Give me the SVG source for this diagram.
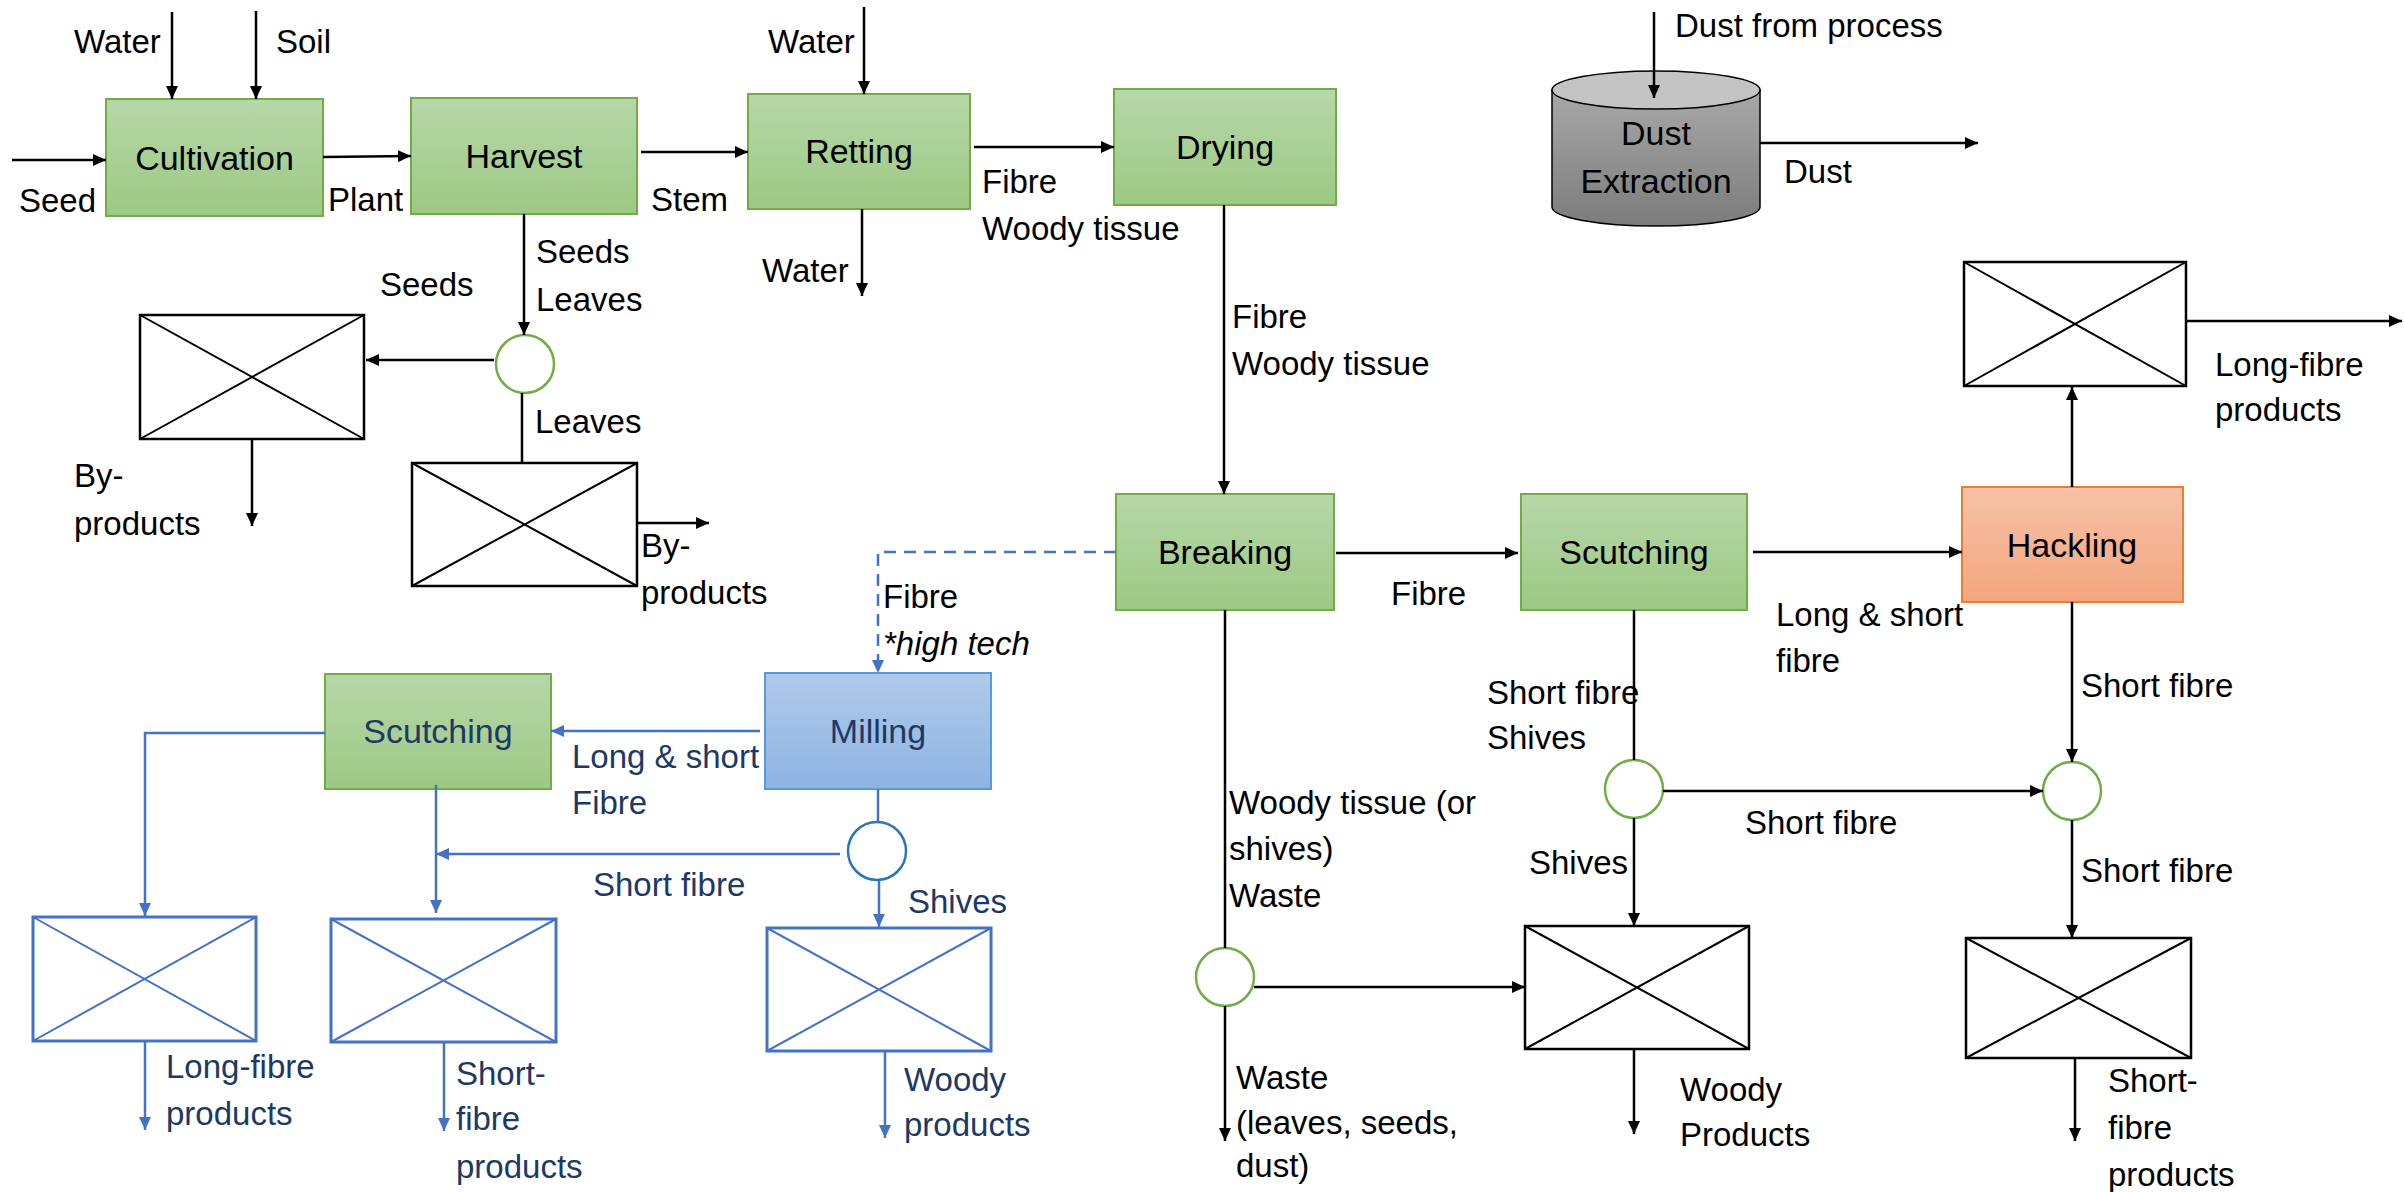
<svg xmlns="http://www.w3.org/2000/svg" width="2404" height="1192" viewBox="0 0 2404 1192">
  <defs>
    <linearGradient id="gGreen" x1="0" y1="0" x2="0" y2="1">
      <stop offset="0" stop-color="#B7D7A8"/>
      <stop offset="1" stop-color="#9CC984"/>
    </linearGradient>
    <linearGradient id="gBlue" x1="0" y1="0" x2="0" y2="1">
      <stop offset="0" stop-color="#AFCAE9"/>
      <stop offset="1" stop-color="#8EB4E3"/>
    </linearGradient>
    <linearGradient id="gOrange" x1="0" y1="0" x2="0" y2="1">
      <stop offset="0" stop-color="#F7C2A8"/>
      <stop offset="1" stop-color="#F4A57E"/>
    </linearGradient>
    <linearGradient id="gGrey" x1="0" y1="0" x2="0" y2="1">
      <stop offset="0" stop-color="#A8A8A8"/>
      <stop offset="1" stop-color="#7C7C7C"/>
    </linearGradient>
    <marker id="ah" markerWidth="14" markerHeight="12" refX="13" refY="6" orient="auto" markerUnits="userSpaceOnUse">
      <path d="M0,0 L13,6 L0,12 z" fill="#000"/>
    </marker>
    <marker id="ahb" markerWidth="14" markerHeight="12" refX="13" refY="6" orient="auto" markerUnits="userSpaceOnUse">
      <path d="M0,0 L13,6 L0,12 z" fill="#4472C4"/>
    </marker>
  </defs>
  <style>
    .proc { stroke-width: 2; }
    .green { fill: url(#gGreen); stroke: #70AD47; }
    .blue { fill: url(#gBlue); stroke: #5B9BD5; }
    .orange { fill: url(#gOrange); stroke: #ED7D31; }
    .xbox { fill: #fff; stroke: #000; stroke-width: 2.5; }
    .xline { stroke: #000; stroke-width: 2; }
    .xboxb { fill: #fff; stroke: #4472C4; stroke-width: 3; }
    .xlineb { stroke: #4472C4; stroke-width: 2; }
    .split { fill: #fff; stroke: #70AD47; stroke-width: 2.5; }
    .splitb { fill: #fff; stroke: #2E75B6; stroke-width: 2.5; }
    .name { font-family: "Liberation Sans", Arial, sans-serif; font-size: 34px; text-anchor: middle; fill: #000; }
    .nameb { font-family: "Liberation Sans", Arial, sans-serif; font-size: 34px; text-anchor: middle; fill: #203864; }
    .lbl { font-family: "Liberation Sans", Arial, sans-serif; font-size: 33px; fill: #000; }
    .lblb { font-family: "Liberation Sans", Arial, sans-serif; font-size: 33px; fill: #203864; }
    .flow { fill: none; stroke: #000; stroke-width: 2.5; }
    .flowb { fill: none; stroke: #4472C4; stroke-width: 2.5; }
    .arr { marker-end: url(#ah); }
    .arrb { marker-end: url(#ahb); }
  </style>

  <rect width="2404" height="1192" fill="#fff"/>

  <!-- process units -->
  <g id="cultivation">
    <rect class="proc green" x="106" y="99" width="217" height="117"/>
    <text class="name" x="214.5" y="170">Cultivation</text>
  </g>
  <g id="harvest">
    <rect class="proc green" x="411" y="98" width="226" height="116"/>
    <text class="name" x="524" y="168">Harvest</text>
  </g>
  <g id="retting">
    <rect class="proc green" x="748" y="94" width="222" height="115"/>
    <text class="name" x="859" y="163">Retting</text>
  </g>
  <g id="drying">
    <rect class="proc green" x="1114" y="89" width="222" height="116"/>
    <text class="name" x="1225" y="159">Drying</text>
  </g>
  <g id="breaking">
    <rect class="proc green" x="1116" y="494" width="218" height="116"/>
    <text class="name" x="1225" y="564">Breaking</text>
  </g>
  <g id="scutching">
    <rect class="proc green" x="1521" y="494" width="226" height="116"/>
    <text class="name" x="1634" y="564">Scutching</text>
  </g>
  <g id="hackling">
    <rect class="proc orange" x="1962" y="487" width="221" height="115"/>
    <text class="name" x="2072" y="557">Hackling</text>
  </g>
  <g id="milling">
    <rect class="proc blue" x="765" y="673" width="226" height="116"/>
    <text class="nameb" x="878" y="743">Milling</text>
  </g>
  <g id="scutching-mech">
    <rect class="proc green" x="325" y="674" width="226" height="115"/>
    <text class="nameb" x="438" y="743">Scutching</text>
  </g>
  <g id="dust-extraction">
    <path d="M1552,90 V207 A104,19 0 0 0 1760,207 V90 Z" fill="url(#gGrey)" stroke="#000" stroke-width="1.5"/>
    <ellipse cx="1656" cy="90" rx="104" ry="19" fill="#C4C4C4" stroke="#000" stroke-width="1.5"/>
    <text class="name" x="1656" y="145" fill="#1a1a1a">Dust</text>
    <text class="name" x="1656" y="193" fill="#1a1a1a">Extraction</text>
  </g>

  <!-- splitters -->
  <g id="split-harvest"><circle class="split" cx="525" cy="364" r="29"/></g>
  <g id="split-breaking"><circle class="split" cx="1225" cy="977" r="29"/></g>
  <g id="split-scutching"><circle class="split" cx="1634" cy="789" r="29"/></g>
  <g id="split-hackling"><circle class="split" cx="2072" cy="791" r="29"/></g>
  <g id="split-milling"><circle class="splitb" cx="877" cy="851" r="29"/></g>

  <!-- product stores -->
  <g id="store-seeds">
    <rect class="xbox" x="140" y="315" width="224" height="124"/>
    <path class="xline" d="M140,315 L364,439 M364,315 L140,439"/>
  </g>
  <g id="store-leaves">
    <rect class="xbox" x="412" y="463" width="225" height="123"/>
    <path class="xline" d="M412,463 L637,586 M637,463 L412,586"/>
  </g>
  <g id="store-long-fibre">
    <rect class="xbox" x="1964" y="262" width="222" height="124"/>
    <path class="xline" d="M1964,262 L2186,386 M2186,262 L1964,386"/>
  </g>
  <g id="store-woody">
    <rect class="xbox" x="1525" y="926" width="224" height="123"/>
    <path class="xline" d="M1525,926 L1749,1049 M1749,926 L1525,1049"/>
  </g>
  <g id="store-short-fibre">
    <rect class="xbox" x="1966" y="938" width="225" height="120"/>
    <path class="xline" d="M1966,938 L2191,1058 M2191,938 L1966,1058"/>
  </g>
  <g id="store-long-fibre-mech">
    <rect class="xboxb" x="33" y="917" width="223" height="124"/>
    <path class="xlineb" d="M33,917 L256,1041 M256,917 L33,1041"/>
  </g>
  <g id="store-short-fibre-mech">
    <rect class="xboxb" x="331" y="919" width="225" height="123"/>
    <path class="xlineb" d="M331,919 L556,1042 M556,919 L331,1042"/>
  </g>
  <g id="store-woody-mech">
    <rect class="xboxb" x="767" y="928" width="224" height="123"/>
    <path class="xlineb" d="M767,928 L991,1051 M991,928 L767,1051"/>
  </g>

  <!-- connectors -->
  <g id="connectors">
    <path class="flow arr" d="M12,160 H106"/>
    <path class="flow arr" d="M172,12 V99"/>
    <path class="flow arr" d="M256,11 V99"/>
    <path class="flow arr" d="M323,157 L411,156"/>
    <path class="flow arr" d="M641,152 H748"/>
    <path class="flow arr" d="M524,214 V335"/>
    <path class="flow arr" d="M494,360 H366"/>
    <path class="flow arr" d="M252,439 V526"/>
    <path class="flow" d="M522,393 V463"/>
    <path class="flow arr" d="M637,523 H709"/>
    <path class="flow arr" d="M864,7 V94"/>
    <path class="flow arr" d="M862,209 V296"/>
    <path class="flow arr" d="M974,147 H1114"/>
    <path class="flow arr" d="M1224,205 V494"/>
    <path class="flow arr" d="M1336,553 H1518"/>
    <path class="flow arr" d="M1753,552 H1962"/>
    <path class="flow arr" d="M2072,487 V387"/>
    <path class="flow arr" d="M2186,321 H2402"/>
    <path class="flow arr" d="M1654,12 V98"/>
    <path class="flow arr" d="M1760,143 H1978"/>
    <path class="flow" d="M1225,610 V948"/>
    <path class="flow arr" d="M1254,987 H1525"/>
    <path class="flow arr" d="M1225,1006 V1141"/>
    <path class="flow arr" d="M1634,1049 V1134"/>
    <path class="flow" d="M1634,610 V760"/>
    <path class="flow arr" d="M1634,818 V926"/>
    <path class="flow arr" d="M1663,791 H2043"/>
    <path class="flow arr" d="M2072,602 V762"/>
    <path class="flow arr" d="M2072,820 V938"/>
    <path class="flow arr" d="M2075,1058 V1141"/>

    <path class="flowb arrb" d="M1116,552 H878 V673" stroke-dasharray="12,8"/>
    <path class="flowb arrb" d="M760,731 H551"/>
    <path class="flowb arrb" d="M325,733 H145 V916"/>
    <path class="flowb arrb" d="M436,785 V913"/>
    <path class="flowb arrb" d="M840,854 H436"/>
    <path class="flowb" d="M878,789 V822"/>
    <path class="flowb arrb" d="M879,880 V927"/>
    <path class="flowb arrb" d="M145,1041 V1130"/>
    <path class="flowb arrb" d="M444,1042 V1131"/>
    <path class="flowb arrb" d="M885,1051 V1138"/>
  </g>

  <!-- stream labels -->
  <g id="labels">
    <text class="lbl" x="74" y="53">Water</text>
    <text class="lbl" x="276" y="53">Soil</text>
    <text class="lbl" x="19" y="212">Seed</text>
    <text class="lbl" x="328" y="211">Plant</text>
    <text class="lbl" x="651" y="211">Stem</text>
    <text class="lbl" x="536" y="263">Seeds</text>
    <text class="lbl" x="536" y="311">Leaves</text>
    <text class="lbl" x="380" y="296">Seeds</text>
    <text class="lbl" x="535" y="433">Leaves</text>
    <text class="lbl" x="74" y="487">By-</text>
    <text class="lbl" x="74" y="535">products</text>
    <text class="lbl" x="641" y="557">By-</text>
    <text class="lbl" x="641" y="604">products</text>
    <text class="lbl" x="768" y="53">Water</text>
    <text class="lbl" x="762" y="282">Water</text>
    <text class="lbl" x="982" y="193">Fibre</text>
    <text class="lbl" x="982" y="240">Woody tissue</text>
    <text class="lbl" x="1232" y="328">Fibre</text>
    <text class="lbl" x="1232" y="375">Woody tissue</text>
    <text class="lbl" x="1675" y="37">Dust from process</text>
    <text class="lbl" x="1784" y="183">Dust</text>
    <text class="lbl" x="2215" y="376">Long-fibre</text>
    <text class="lbl" x="2215" y="421">products</text>
    <text class="lbl" x="1391" y="605">Fibre</text>
    <text class="lbl" x="1776" y="626">Long &amp; short</text>
    <text class="lbl" x="1776" y="672">fibre</text>
    <text class="lbl" x="1487" y="704">Short fibre</text>
    <text class="lbl" x="1487" y="749">Shives</text>
    <text class="lbl" x="2081" y="697">Short fibre</text>
    <text class="lbl" x="1229" y="814">Woody tissue (or</text>
    <text class="lbl" x="1229" y="860">shives)</text>
    <text class="lbl" x="1229" y="907">Waste</text>
    <text class="lbl" x="1745" y="834">Short fibre</text>
    <text class="lbl" x="1529" y="874">Shives</text>
    <text class="lbl" x="2081" y="882">Short fibre</text>
    <text class="lbl" x="1236" y="1089">Waste</text>
    <text class="lbl" x="1236" y="1134">(leaves, seeds,</text>
    <text class="lbl" x="1236" y="1177">dust)</text>
    <text class="lbl" x="1680" y="1101">Woody</text>
    <text class="lbl" x="1680" y="1146">Products</text>
    <text class="lbl" x="2108" y="1092">Short-</text>
    <text class="lbl" x="2108" y="1139">fibre</text>
    <text class="lbl" x="2108" y="1186">products</text>
    <text class="lbl" x="883" y="608">Fibre</text>
    <text class="lbl" x="883" y="655" font-style="italic">*high tech</text>

    <text class="lblb" x="572" y="768">Long &amp; short</text>
    <text class="lblb" x="572" y="814">Fibre</text>
    <text class="lblb" x="593" y="896">Short fibre</text>
    <text class="lblb" x="908" y="913">Shives</text>
    <text class="lblb" x="166" y="1078">Long-fibre</text>
    <text class="lblb" x="166" y="1125">products</text>
    <text class="lblb" x="456" y="1085">Short-</text>
    <text class="lblb" x="456" y="1130">fibre</text>
    <text class="lblb" x="456" y="1178">products</text>
    <text class="lblb" x="904" y="1091">Woody</text>
    <text class="lblb" x="904" y="1136">products</text>
  </g>
</svg>
